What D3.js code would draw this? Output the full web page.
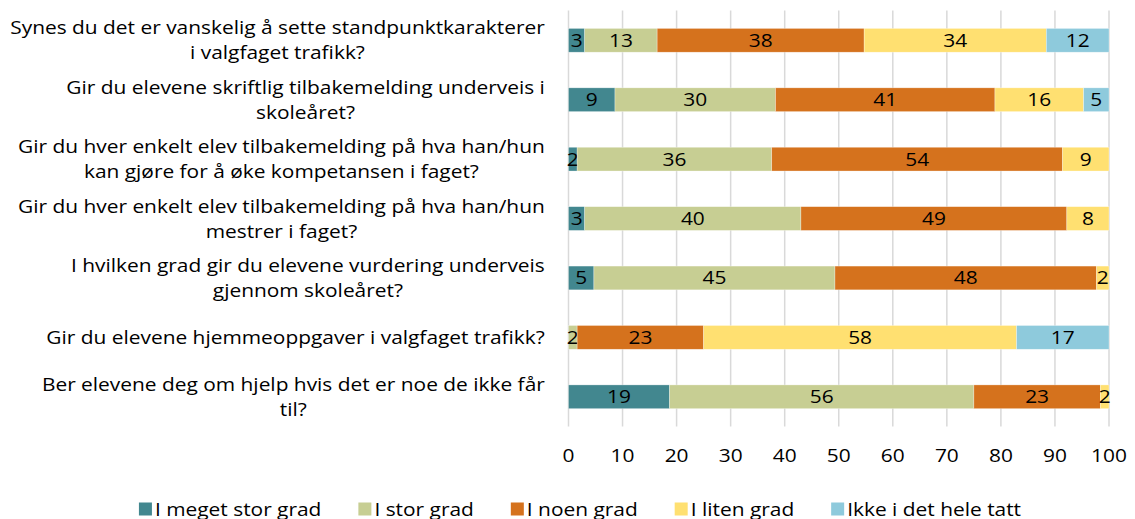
<!DOCTYPE html>
<html lang="no">
<head>
    <meta charset="utf-8">
    <title>Vurdering i valgfaget trafikk</title>
    <script src="https://d3js.org/d3.v7.min.js"></script>
    <style>
        body {
            margin: 0;
            background: #fff;
        }
        svg text {
            font-family: "Open Sans", Lato, sans-serif;
            fill: #000;
        }
    </style>
</head>
<body>
    <svg id="chart" width="1135" height="519"></svg>

    <script>
        // spørsmål (linjeskift som i originalen)
        const categories = [
            "Synes du det er vanskelig å sette standpunktkarakterer\ni valgfaget trafikk?",
            "Gir du elevene skriftlig tilbakemelding underveis i\nskoleåret?",
            "Gir du hver enkelt elev tilbakemelding på hva han/hun\nkan gjøre for å øke kompetansen i faget?",
            "Gir du hver enkelt elev tilbakemelding på hva han/hun\nmestrer i faget?",
            "I hvilken grad gir du elevene vurdering underveis\ngjennom skoleåret?",
            "Gir du elevene hjemmeoppgaver i valgfaget trafikk?",
            "Ber elevene deg om hjelp hvis det er noe de ikke får\ntil?"
        ];

        const seriesNames = ["I meget stor grad", "I stor grad", "I noen grad", "I liten grad", "Ikke i det hele tatt"];
        const seriesColors = ["#42878f", "#c7ce93", "#d5721d", "#ffe071", "#8ecadc"];

        // prosent per spørsmål
        const megetStor = [3.0, 8.6, 1.6, 3.0, 4.7, 0, 18.7];
        const stor      = [13.4, 29.7, 36.0, 40.0, 44.6, 1.6, 56.3];
        const noen      = [38.3, 40.6, 53.8, 49.2, 48.4, 23.4, 23.4];
        const liten     = [33.7, 16.4, 8.6, 7.8, 2.3, 57.9, 1.6];
        const ikke      = [11.6, 4.7, 0, 0, 0, 17.1, 0];

        const xTicks = [0, 10, 20, 30, 40, 50, 60, 70, 80, 90, 100];

        const seriesValues = [megetStor, stor, noen, liten, ikke];
        const rows = categories.map((c, i) => {
            const r = { category: c };
            seriesNames.forEach((s, j) => r[s] = seriesValues[j][i]);
            return r;
        });

        const svg = d3.select("#chart");
        const fontSize = 18.6;

        // the original text is a bit wider than the fonts we have, stretch it horizontally
        const probe = svg.append("text").attr("font-size", fontSize).text(categories[0].split("\n")[0]);
        const sx = 535 / probe.node().getComputedTextLength();
        probe.remove();

        function addText(parent, str, tx, ty, anchor) {
            return parent.append("text")
                .attr("transform", `translate(${tx},${ty}) scale(${sx},1)`)
                .attr("dy", "0.35em")
                .attr("text-anchor", anchor)
                .attr("font-size", fontSize)
                .text(str);
        }

        const x = d3.scaleLinear().domain([0, 100]).range([568.5, 1109]);
        const y = d3.scaleBand().domain(categories).range([10.6, 426.5]).paddingInner(0.6).paddingOuter(0.3);

        // gridlines
        svg.append("g")
            .selectAll("line")
            .data(xTicks)
            .join("line")
            .attr("x1", d => x(d)).attr("x2", d => x(d))
            .attr("y1", 10.6).attr("y2", 426.5)
            .attr("stroke", "#d9d9d9")
            .attr("stroke-width", 1.5);

        const stacked = d3.stack().keys(seriesNames)(rows);

        const layers = svg.append("g")
            .selectAll("g")
            .data(stacked)
            .join("g")
            .attr("fill", (d, i) => seriesColors[i]);

        layers.selectAll("rect")
            .data(d => d.filter(p => p[1] - p[0] > 0))
            .join("rect")
            .attr("x", d => x(d[0]))
            .attr("width", d => x(d[1]) - x(d[0]))
            .attr("y", d => y(d.data.category))
            .attr("height", y.bandwidth())
            .attr("stroke", "#fff")
            .attr("stroke-opacity", 0.5)
            .attr("stroke-width", 0.6);

        const fmt = d3.format(".0f");
        layers.each(function (layer) {
            const g = d3.select(this);
            layer.filter(p => p[1] - p[0] > 0).forEach(p => {
                addText(g, fmt(p[1] - p[0]),
                    (x(p[0]) + x(p[1])) / 2,
                    y(p.data.category) + y.bandwidth() / 2, "middle")
                    .attr("fill", "#000");
            });
        });

        // x axis labels
        const xAxis = svg.append("g");
        xTicks.forEach(t => addText(xAxis, t, x(t), 455, "middle"));

        // category labels: block right aligned, lines centered in block
        const labelRight = 545;
        const lineH = 25;
        categories.forEach(c => {
            const lines = c.split("\n");
            const g = svg.append("g");
            const w = sx * d3.max(lines, l => {
                const t = g.append("text").attr("font-size", fontSize).text(l);
                const len = t.node().getComputedTextLength();
                t.remove();
                return len;
            });
            const cy = y(c) + y.bandwidth() / 2;
            lines.forEach((l, i) => {
                addText(g, l, labelRight - w / 2, cy + (i - (lines.length - 1) / 2) * lineH, "middle");
            });
        });

        // legend
        const legend = svg.append("g");
        const items = seriesNames.map((s, i) => {
            const g = legend.append("g");
            g.append("rect").attr("width", 13).attr("height", 13).attr("y", -6.5).attr("fill", seriesColors[i]);
            const t = addText(g, s, 16, 0, "start");
            return { g, w: 16 + sx * t.node().getComputedTextLength() };
        });
        const gap = 37;
        const total = d3.sum(items, d => d.w) + gap * (items.length - 1);
        let lx = 580 - total / 2;
        items.forEach(it => {
            it.g.attr("transform", `translate(${lx},509)`);
            lx += it.w + gap;
        });
    </script>
</body>
</html>
